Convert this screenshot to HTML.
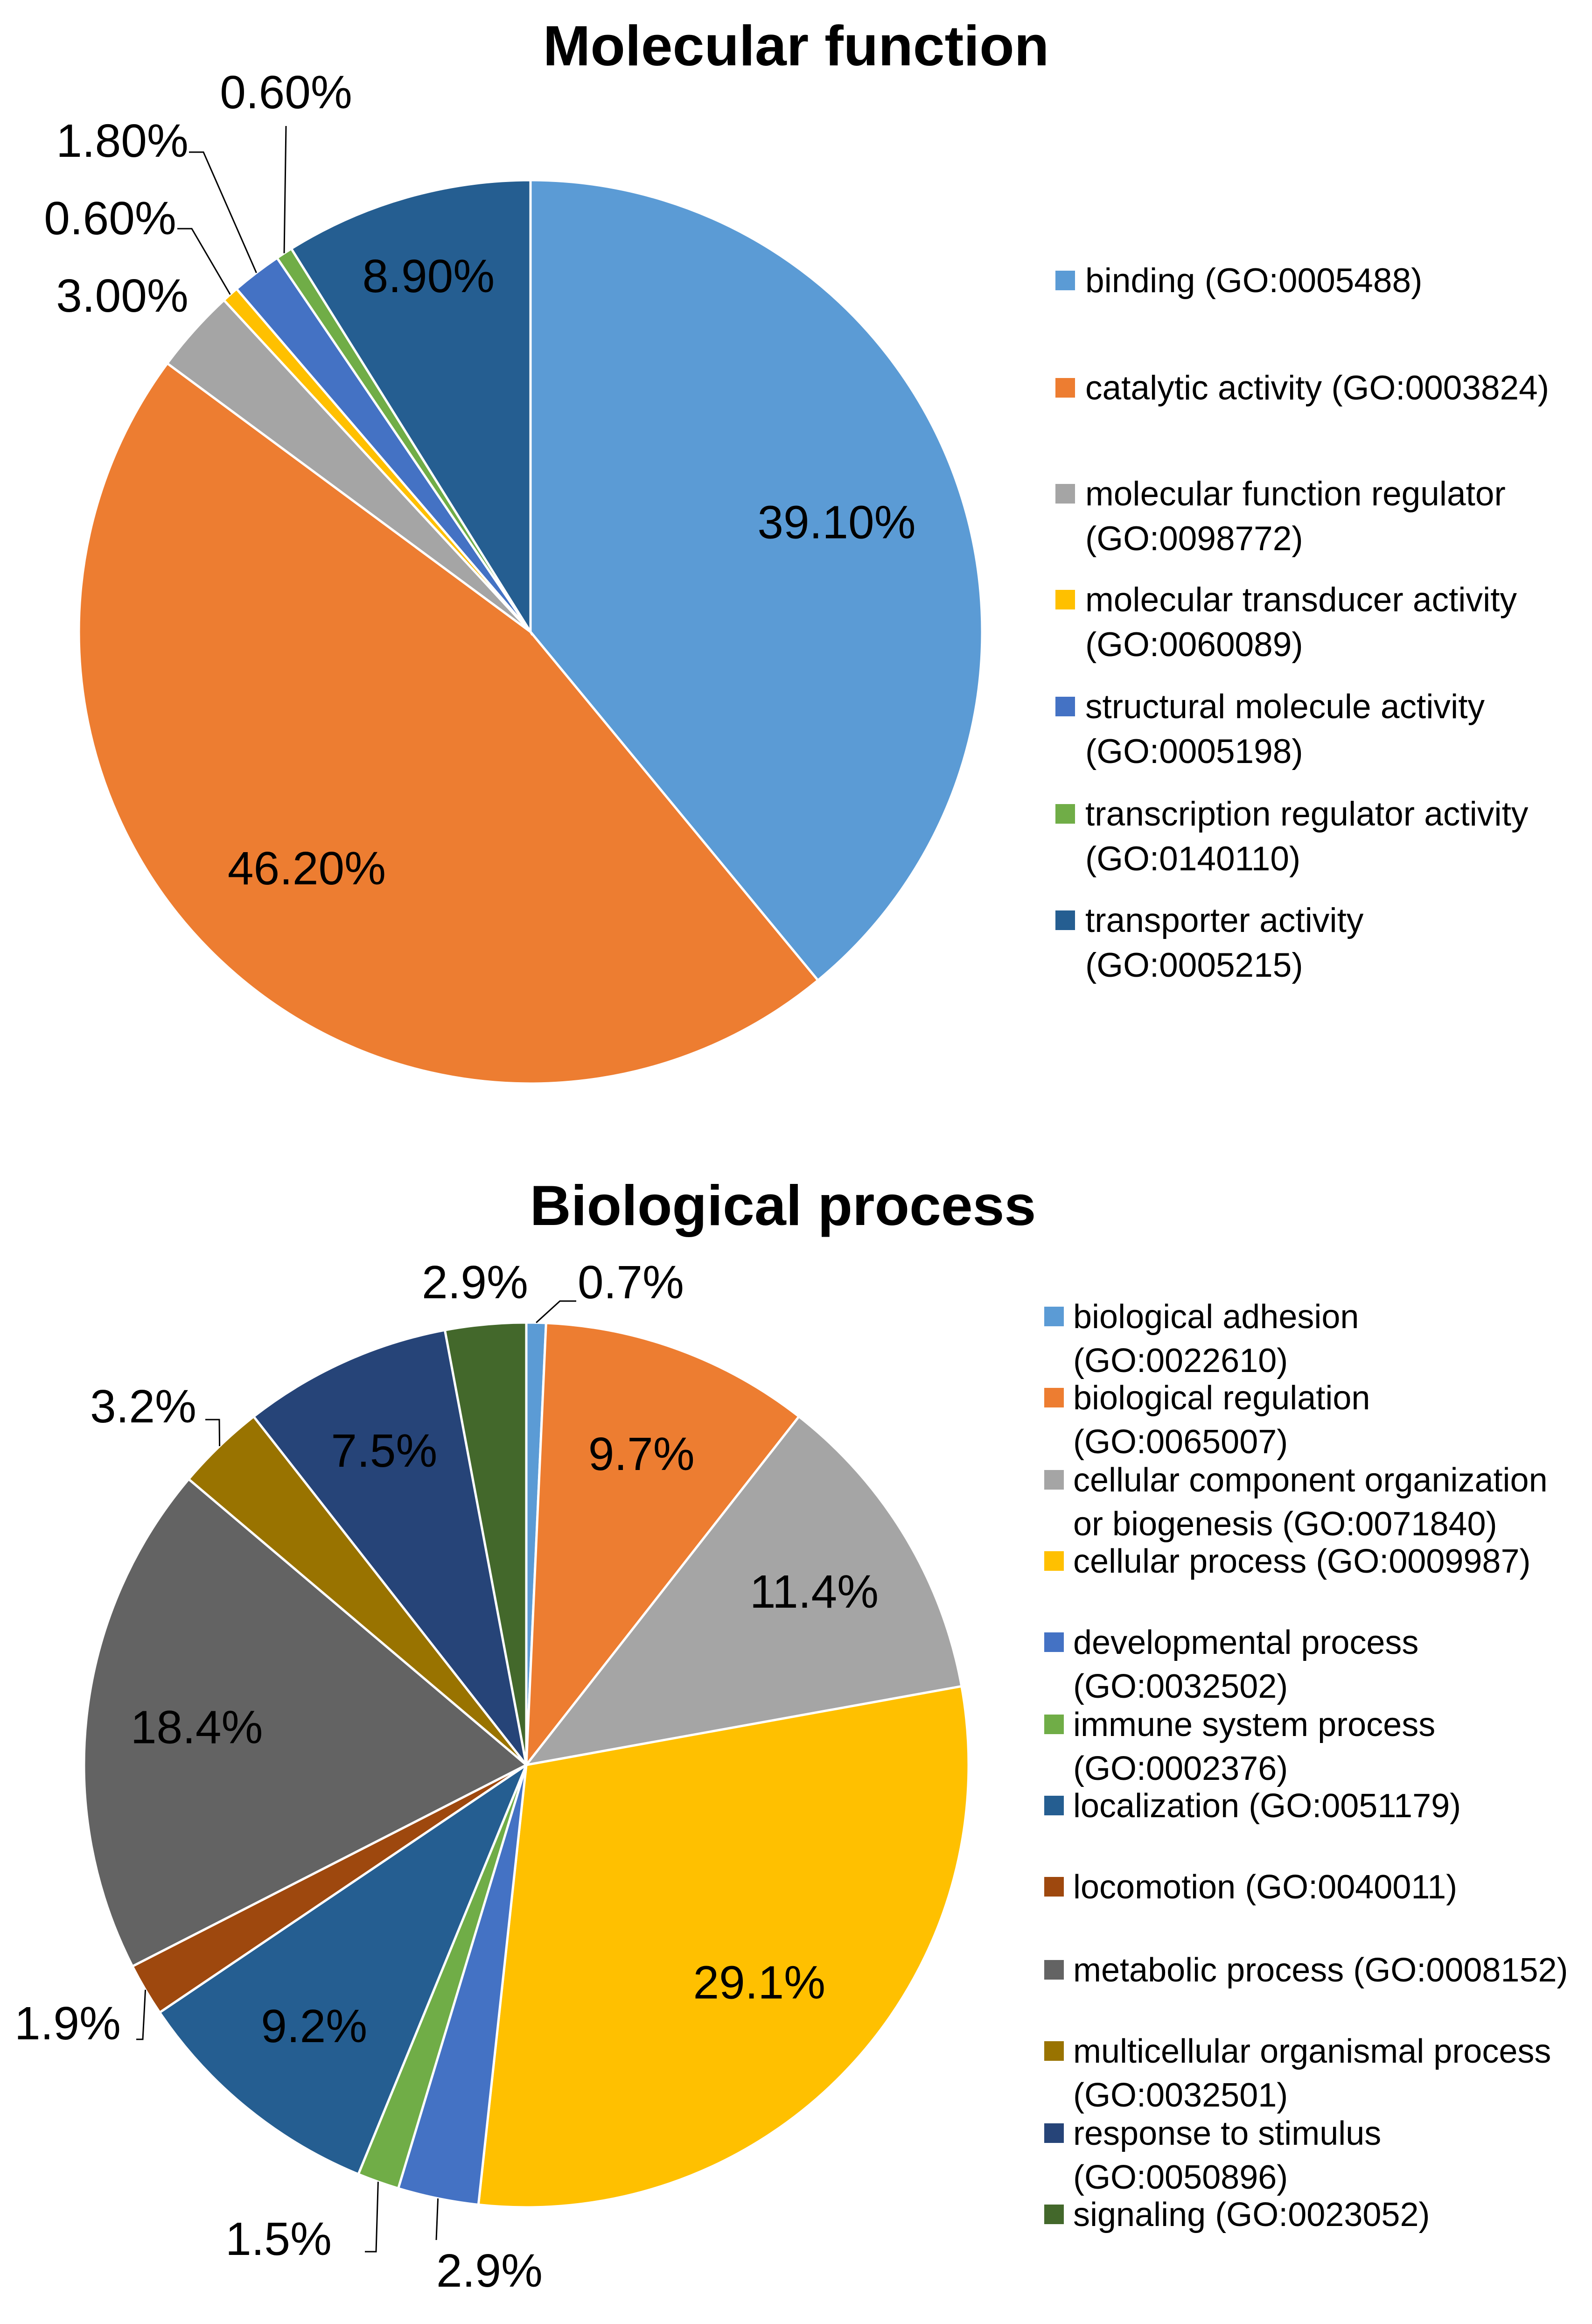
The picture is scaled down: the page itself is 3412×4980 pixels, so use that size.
<!DOCTYPE html>
<html><head><meta charset="utf-8"><style>
html,body{margin:0;padding:0;background:#fff;}
svg{display:block;font-family:"Liberation Sans",sans-serif;}
</style></head><body>
<svg id="chart" width="3412" height="4980" viewBox="0 0 3412 4980" xmlns="http://www.w3.org/2000/svg">
<rect width="3412" height="4980" fill="#fff"/>
<text x="1706" y="140" font-size="122" font-weight="bold" text-anchor="middle" fill="#000">Molecular function</text>
<text x="1678" y="2625" font-size="122" font-weight="bold" text-anchor="middle" fill="#000">Biological process</text>
<g id="mf"></g><g id="bp"></g>
</svg>
<script>
const mfCategories = ["binding (GO:0005488)","catalytic activity (GO:0003824)","molecular function regulator|(GO:0098772)","molecular transducer activity|(GO:0060089)","structural molecule activity|(GO:0005198)","transcription regulator activity|(GO:0140110)","transporter activity|(GO:0005215)"];
const mfValues = [39.1,46.2,3.0,0.6,1.8,0.6,8.9];
const mfLabels = ["39.10%","46.20%","3.00%","0.60%","1.80%","0.60%","8.90%"];
const mfColors = ["#5B9BD5","#ED7D31","#A5A5A5","#FFC000","#4472C4","#70AD47","#255E91"];

const bpCategories = ["biological adhesion|(GO:0022610)","biological regulation|(GO:0065007)","cellular component organization|or biogenesis (GO:0071840)","cellular process (GO:0009987)","developmental process|(GO:0032502)","immune system process|(GO:0002376)","localization (GO:0051179)","locomotion (GO:0040011)","metabolic process (GO:0008152)","multicellular organismal process|(GO:0032501)","response to stimulus|(GO:0050896)","signaling (GO:0023052)"];
const bpValues = [0.7,9.7,11.4,29.1,2.9,1.5,9.2,1.9,18.4,3.2,7.5,2.9];
const bpLabels = ["0.7%","9.7%","11.4%","29.1%","2.9%","1.5%","9.2%","1.9%","18.4%","3.2%","7.5%","2.9%"];
const bpColors = ["#5B9BD5","#ED7D31","#A5A5A5","#FFC000","#4472C4","#70AD47","#255E91","#9E480E","#636363","#997300","#264478","#43682B"];

const NS="http://www.w3.org/2000/svg";
function mk(tag,attrs,parent){const e=document.createElementNS(NS,tag);for(const k in attrs)e.setAttribute(k,attrs[k]);parent.appendChild(e);return e;}

function drawPie(g,cx,cy,r,values,colors,labels,inside,outside,prefix){
  const total=values.reduce((a,b)=>a+b,0);
  let a0=-Math.PI/2;
  values.forEach((v,i)=>{
    const a1=a0+v/total*2*Math.PI;
    const large=(a1-a0)>Math.PI?1:0;
    const x0=cx+r*Math.cos(a0),y0=cy+r*Math.sin(a0),x1=cx+r*Math.cos(a1),y1=cy+r*Math.sin(a1);
    const p=mk('path',{d:`M${cx},${cy}L${x0},${y0}A${r},${r} 0 ${large} 1 ${x1},${y1}Z`,fill:colors[i],stroke:'#fff','stroke-width':5},g);
    
    
    const mid=(a0+a1)/2;
    if(inside[i]!==undefined){
      const f=inside[i];
      const t=mk('text',{x:cx+r*f*Math.cos(mid),y:cy+r*f*Math.sin(mid)+35,'font-size':100,'text-anchor':'middle',fill:'#000'},g);
      t.textContent=labels[i];
      
      
    } else if(outside[i]){
      const o=outside[i];
      const ex=cx+r*Math.cos(mid)*o.k,ey=cy+r*Math.sin(mid)*o.k;
      const l=mk('polyline',{points:`${ex},${ey} ${o.pts}`,fill:'none',stroke:'#000','stroke-width':3},g);
      
      
      const t=mk('text',{x:o.x,y:o.y,'font-size':100,'text-anchor':'middle',fill:'#000'},g);
      t.textContent=labels[i];
      
      
    }
    a0=a1;
  });
}
function drawLegend(g,x,tx,ys,cats,colors,prefix,lh,fs){
  cats.forEach((c,i)=>{
    const s=mk('rect',{x:x,y:ys[i]-46,width:42,height:42,fill:colors[i]},g);
    
    
    c.split('|').forEach((line,j)=>{
      const t=mk('text',{x:tx,y:ys[i]+j*lh,'font-size':fs,fill:'#000'},g);
      t.textContent=line;
      
      
    });
  });
}
const mf=document.getElementById('mf');
drawPie(mf,1137,1354,968,mfValues,mfColors,mfLabels,
 {0:0.72,1:0.72,6:0.82},
 {2:{k:0.95,pts:"",x:262,y:668},
  3:{k:1.0,pts:"411,490 380,490",x:236,y:502},
  4:{k:1.0,pts:"436,326 405,326",x:262,y:336},
  5:{k:1.0,pts:"613,270",x:613,y:232}},'mf');
drawLegend(mf,2262,2326,[626,856,1083,1310,1539,1769,1997],mfCategories,mfColors,'mf',96,73);

const bp=document.getElementById('bp');
drawPie(bp,1128,3782,948,bpValues,bpColors,bpLabels,
 {1:0.75,2:0.76,3:0.72,6:0.76,8:0.75,10:0.78},
 {0:{k:1.0,pts:"1200,2788 1235,2788",x:1352,y:2782},
  4:{k:1.0,pts:"935,4800",x:1049,y:4900},
  5:{k:1.0,pts:"806,4825 782,4825",x:597,y:4832},
  7:{k:1.0,pts:"306,4370 292,4370",x:145,y:4370},
  9:{k:1.0,pts:"470,3042 440,3042",x:307,y:3048},
  11:{k:1.0,pts:"",x:1018,y:2782}},'bp');
drawLegend(bp,2238,2300,[2846,3020,3196,3370,3544,3720,3894,4068,4246,4420,4596,4770],bpCategories,bpColors,'bp',94,72);
</script>
</body></html>
